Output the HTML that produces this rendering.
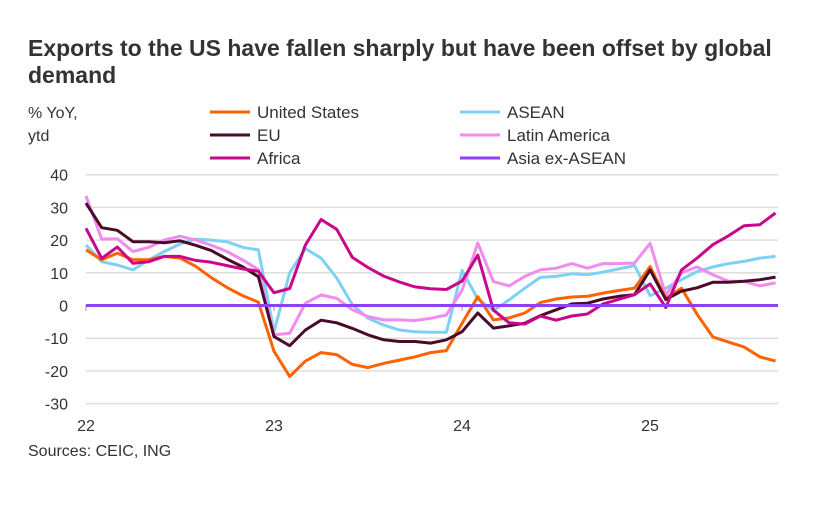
<!DOCTYPE html>
<html><head><meta charset="utf-8"><style>
body{margin:0;background:#fff;width:835px;height:515px;overflow:hidden;font-family:"Liberation Sans",sans-serif;color:#333}
</style></head><body>
<svg width="835" height="515" xmlns="http://www.w3.org/2000/svg" font-family="Liberation Sans, sans-serif">
<text x="28" y="56" font-size="23" font-weight="bold" fill="#333">Exports to the US have fallen sharply but have been offset by global</text>
<text x="28" y="83" font-size="23" font-weight="bold" fill="#333">demand</text>
<text x="28" y="118" font-size="16" fill="#333">% YoY,</text>
<text x="28" y="141" font-size="16" fill="#333">ytd</text>
<g font-size="17" fill="#333">
<line x1="210" y1="112" x2="250" y2="112" stroke="#FF6200" stroke-width="3"/><text x="257" y="118">United States</text>
<line x1="210" y1="135" x2="250" y2="135" stroke="#4a0a2a" stroke-width="3"/><text x="257" y="141">EU</text>
<line x1="210" y1="158" x2="250" y2="158" stroke="#c9078a" stroke-width="3"/><text x="257" y="164">Africa</text>
<line x1="460" y1="112" x2="500" y2="112" stroke="#7fd0f5" stroke-width="3"/><text x="507" y="118">ASEAN</text>
<line x1="460" y1="135" x2="500" y2="135" stroke="#f28bf0" stroke-width="3"/><text x="507" y="141">Latin America</text>
<line x1="460" y1="158" x2="500" y2="158" stroke="#8f3ff5" stroke-width="3"/><text x="507" y="164">Asia ex-ASEAN</text>
</g>
<g id="grid"></g>
<g id="series" fill="none" stroke-width="3" stroke-linejoin="round"></g>
<g font-size="16" fill="#333">
<text x="86" y="431" text-anchor="middle">22</text>
<text x="274" y="431" text-anchor="middle">23</text>
<text x="462" y="431" text-anchor="middle">24</text>
<text x="650" y="431" text-anchor="middle">25</text>
</g>
<text x="28" y="456" font-size="16" fill="#333">Sources: CEIC, ING</text>
</svg>
<script>
var NS="http://www.w3.org/2000/svg";
function Y(v){return 305.5-v*3.27}
function X(i){return 86+i*15.67}
var g=document.getElementById('grid');
for(var v=40;v>=-30;v-=10){
 var l=document.createElementNS(NS,'line');l.setAttribute('x1',86);l.setAttribute('x2',778);l.setAttribute('y1',Y(v));l.setAttribute('y2',Y(v));l.setAttribute('stroke','#dedede');l.setAttribute('stroke-width','1.5');g.appendChild(l);
 var t=document.createElementNS(NS,'text');t.setAttribute('x',68);t.setAttribute('y',Y(v)+6);t.setAttribute('text-anchor','end');t.setAttribute('font-size','16');t.setAttribute('fill','#333');t.textContent=v;g.appendChild(t);
}
[86,274,462,650].forEach(function(x){var l=document.createElementNS(NS,'line');l.setAttribute('x1',x);l.setAttribute('x2',x);l.setAttribute('y1',305);l.setAttribute('y2',311);l.setAttribute('stroke','#999');g.appendChild(l);});
var S=[
["#7fd0f5",[18.5,13.4,12.4,10.9,13.9,16.5,18.8,20.3,20,19.5,17.8,17,-8,10,17.4,14.5,8.4,0.2,-3.9,-6,-7.5,-8,-8.2,-8.2,10.7,2,-1.6,1.7,5.3,8.6,8.9,9.7,9.4,10.2,11.2,12.2,3,5.3,7.9,10.4,11.8,12.8,13.5,14.5,15]],
["#f28bf0",[33.5,20.3,20.4,16.5,17.8,20,21.2,20,18.4,16.5,13.9,11,-9,-8.5,0.7,3.2,2.2,-1.3,-3.4,-4.4,-4.4,-4.6,-3.9,-2.9,4.7,19.1,7.3,6,8.9,10.9,11.4,12.8,11.4,12.8,12.8,13,19,3.2,10,11.8,9.4,7.4,7.4,6,6.9]],
["#FF6200",[17,14,16,14,14,15,14.5,12,8.5,5.5,3,1,-14,-21.7,-17,-14.4,-15,-18,-19,-17.7,-16.7,-15.7,-14.4,-13.8,-5.4,2.7,-4.4,-3.8,-2.3,0.9,2,2.6,2.8,3.8,4.6,5.3,11.9,2.2,5.3,-2.7,-9.6,-11.2,-12.7,-15.7,-17]],
["#4a0a2a",[31.3,23.8,23,19.5,19.5,19.2,19.8,18.4,16.8,14.2,11.8,8.8,-9.5,-12.3,-7.5,-4.5,-5.3,-7,-9,-10.5,-11,-11,-11.5,-10.5,-8,-2.3,-6.9,-6.2,-5.4,-3.1,-1.3,0.5,0.7,2,2.8,3.3,10.9,1.8,4.4,5.4,7.1,7.1,7.4,7.9,8.7]],
["#c9078a",[23.6,14.4,17.9,12.9,13.4,15,15,13.8,13.2,12.2,11.2,10.5,3.9,5.2,18.5,26.3,23.3,14.7,11.6,9,7.2,5.7,5.1,4.9,7.5,15.4,-1.4,-5.3,-5.7,-3.2,-4.5,-3.2,-2.6,0.5,1.9,3.3,6.6,-0.6,10.9,14.5,18.6,21.3,24.4,24.7,28.3]]
];
var sg=document.getElementById('series');
S.forEach(function(s){var p=document.createElementNS(NS,'polyline');p.setAttribute('points',s[1].map(function(v,i){return X(i).toFixed(1)+','+Y(v).toFixed(1)}).join(' '));p.setAttribute('stroke',s[0]);sg.appendChild(p);});
var z=document.createElementNS(NS,'line');z.setAttribute('x1',86);z.setAttribute('x2',778);z.setAttribute('y1',Y(0));z.setAttribute('y2',Y(0));z.setAttribute('stroke','#8f3ff5');z.setAttribute('stroke-width','3');sg.appendChild(z);
</script>
</body></html>
